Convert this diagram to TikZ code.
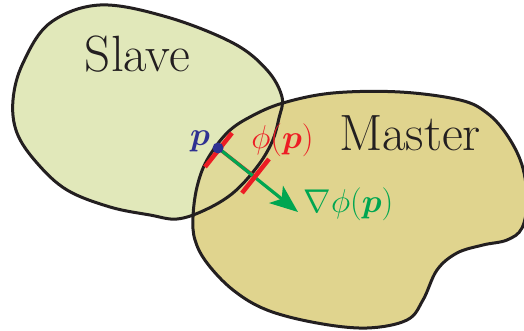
\documentclass[tikz,border=0pt]{standalone}
\usepackage{fix-cm}
\usepackage{amsmath,bm}
\usetikzlibrary{arrows.meta}
\definecolor{slavefill}{RGB}{225,232,186}
\definecolor{masterfill}{RGB}{224,212,142}
\definecolor{pred}{RGB}{237,28,36}
\definecolor{pgreen}{RGB}{0,166,81}
\definecolor{pblue}{RGB}{46,49,146}
\definecolor{ink}{RGB}{35,31,32}
\begin{document}
\begin{tikzpicture}[x=1pt,y=-1pt,
  outline/.style={draw=ink,line width=3pt},
  bigtext/.style={text=ink,font=\fontsize{51}{60}\selectfont,inner sep=0pt,anchor=base},
  mathlbl/.style={font=\fontsize{33}{39}\selectfont,inner sep=0pt,anchor=base},
  tick/.style={draw=pred,line width=4.5pt},
  gradarrow/.style={draw=pgreen,line width=3.2pt,-{Stealth[length=28pt,width=22pt,inset=7pt]}}]
\useasboundingbox (0,0) rectangle (524,331);
\clip (0,0) rectangle (524,331);
\def\slavepath{plot[smooth cycle,tension=0.6] coordinates {(100,5) (167,17) (233,43) (267,70) (282,97) (279,118) (272,142) (257,167) (233,193) (205,210) (177,219) (150,215) (110,207) (67,190) (37,163) (17,133) (13,100) (23,63) (50,23)}}
\def\masterpath{plot[smooth cycle,tension=0.6] coordinates {(283,103) (250,117) (227,133) (207,160) (197,187) (193,217) (195,240) (207,263) (233,290) (267,310) (317,323) (367,328) (407,320) (423,300) (437,270) (457,253) (483,245) (507,240) (522,228) (527,200) (522,165) (507,135) (487,113) (460,100) (400,92) (333,93)}}
\fill[slavefill] \slavepath;
\fill[masterfill] \masterpath;
\begin{scope}
  \clip \masterpath;
  \fill[masterfill!72!slavefill] \slavepath;
\end{scope}
\draw[outline] \slavepath;
\draw[outline] \masterpath;
% labels
\node[bigtext] (slave) at (137.5,72) {Slave};
\node[bigtext] (master) at (410,150) {Master};
% point and normal
\coordinate (p) at (218,148);
\coordinate (q) at (255,177);
\coordinate (t1a) at (205,167);
\coordinate (t1b) at (232,133);
\coordinate (t2a) at (242,193);
\coordinate (t2b) at (269,159);
\coordinate (tip) at (298,212);
\draw[draw=pred,line width=3.5pt] (p) -- (q);
\draw[gradarrow] ([xshift=1.5pt,yshift=-1pt]p) -- (tip);
\draw[tick] (t1a) -- (t1b);
\draw[tick] (t2a) -- (t2b);
\fill[pblue] (p) circle (5.5pt);
\node[mathlbl,text=pblue] (plbl) at (200,146) {$\bm{p}$};
\node[mathlbl,text=pred] (philbl) at (282.5,148.5) {$\phi(\bm{p})$};
\node[mathlbl,text=pgreen] (gradlbl) at (348.5,212.5) {$\nabla\phi(\bm{p})$};
\end{tikzpicture}
\end{document}
